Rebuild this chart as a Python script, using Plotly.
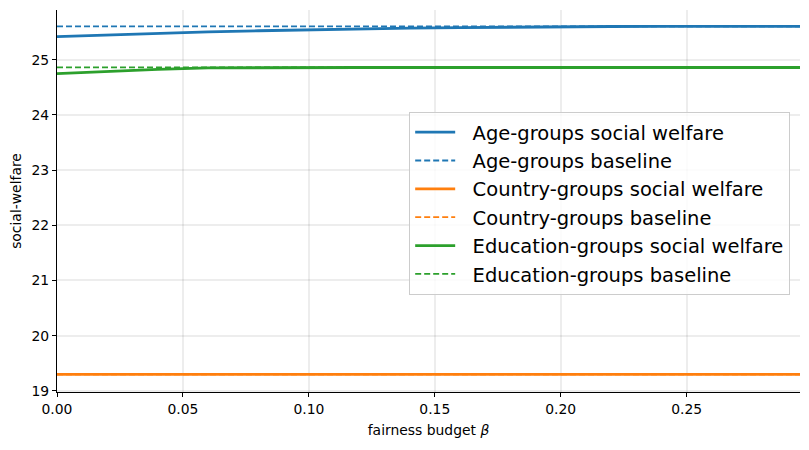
import plotly.graph_objects as go

beta = [0.0, 0.02, 0.04, 0.06, 0.08, 0.10, 0.12, 0.14, 0.16, 0.18, 0.20, 0.22, 0.24, 0.26, 0.28, 0.30]
age_sw = [25.416, 25.448, 25.478, 25.503, 25.524, 25.542, 25.557, 25.570, 25.581, 25.591, 25.598, 25.601, 25.602, 25.602, 25.602, 25.602]
age_base = 25.602
country_sw = [19.30] * len(beta)
country_base = 19.30
edu_sw = [24.747, 24.790, 24.826, 24.852, 24.858, 24.858, 24.858, 24.858, 24.858, 24.858, 24.858, 24.858, 24.858, 24.858, 24.858, 24.858]
edu_base = 24.862

x_ticks = [0.0, 0.05, 0.10, 0.15, 0.20, 0.25]
x_tick_labels = ["0.00", "0.05", "0.10", "0.15", "0.20", "0.25"]
y_ticks = [19, 20, 21, 22, 23, 24, 25]

BLUE = "#1f77b4"
ORANGE = "#ff7f0e"
GREEN = "#2ca02c"

fig = go.Figure()
series = [
    ("Age-groups", age_sw, age_base, BLUE),
    ("Country-groups", country_sw, country_base, ORANGE),
    ("Education-groups", edu_sw, edu_base, GREEN),
]
pad = "\u00a0\u00a0"
for name, sw, base, col in series:
    fig.add_trace(go.Scatter(x=beta, y=sw, mode="lines", name=f"{pad}{name} social welfare",
                             line=dict(color=col, width=2.8)))
    fig.add_trace(go.Scatter(x=beta, y=[base] * len(beta), mode="lines", name=f"{pad}{name} baseline",
                             line=dict(color=col, width=1.8, dash="6px,3px")))

axis_common = dict(
    showline=True, linecolor="black", linewidth=1.2,
    ticks="outside", ticklen=4, tickwidth=1, tickcolor="black",
    showgrid=True, gridcolor="rgba(0,0,0,0.07)", gridwidth=2,
    zeroline=False, tickfont=dict(size=13.9, color="black"),
    mirror=False, automargin=False,
)

# page body has an 8px default margin; size/margins compensate for it
fig.update_layout(
    width=801, height=442,
    margin=dict(l=49, r=9, t=2, b=58),
    plot_bgcolor="white", paper_bgcolor="white",
    font=dict(family="DejaVu Sans", color="black"),
    xaxis=dict(range=[0, 0.295], tickvals=x_ticks, ticktext=x_tick_labels,
               title=dict(text="fairness budget <i>β</i>", font=dict(size=13.9), standoff=9),
               **axis_common),
    yaxis=dict(range=[18.98, 25.9], tickvals=y_ticks,
               title=dict(text="social-welfare", font=dict(size=13.9), standoff=6),
               **axis_common),
    legend=dict(x=0.474, y=0.733, xanchor="left", yanchor="top",
                font=dict(size=19.5, color="black"),
                bgcolor="rgba(255,255,255,0.8)", bordercolor="#cccccc", borderwidth=1,
                tracegroupgap=0, itemwidth=40),
    showlegend=True,
)

fig.write_html("out.html")
